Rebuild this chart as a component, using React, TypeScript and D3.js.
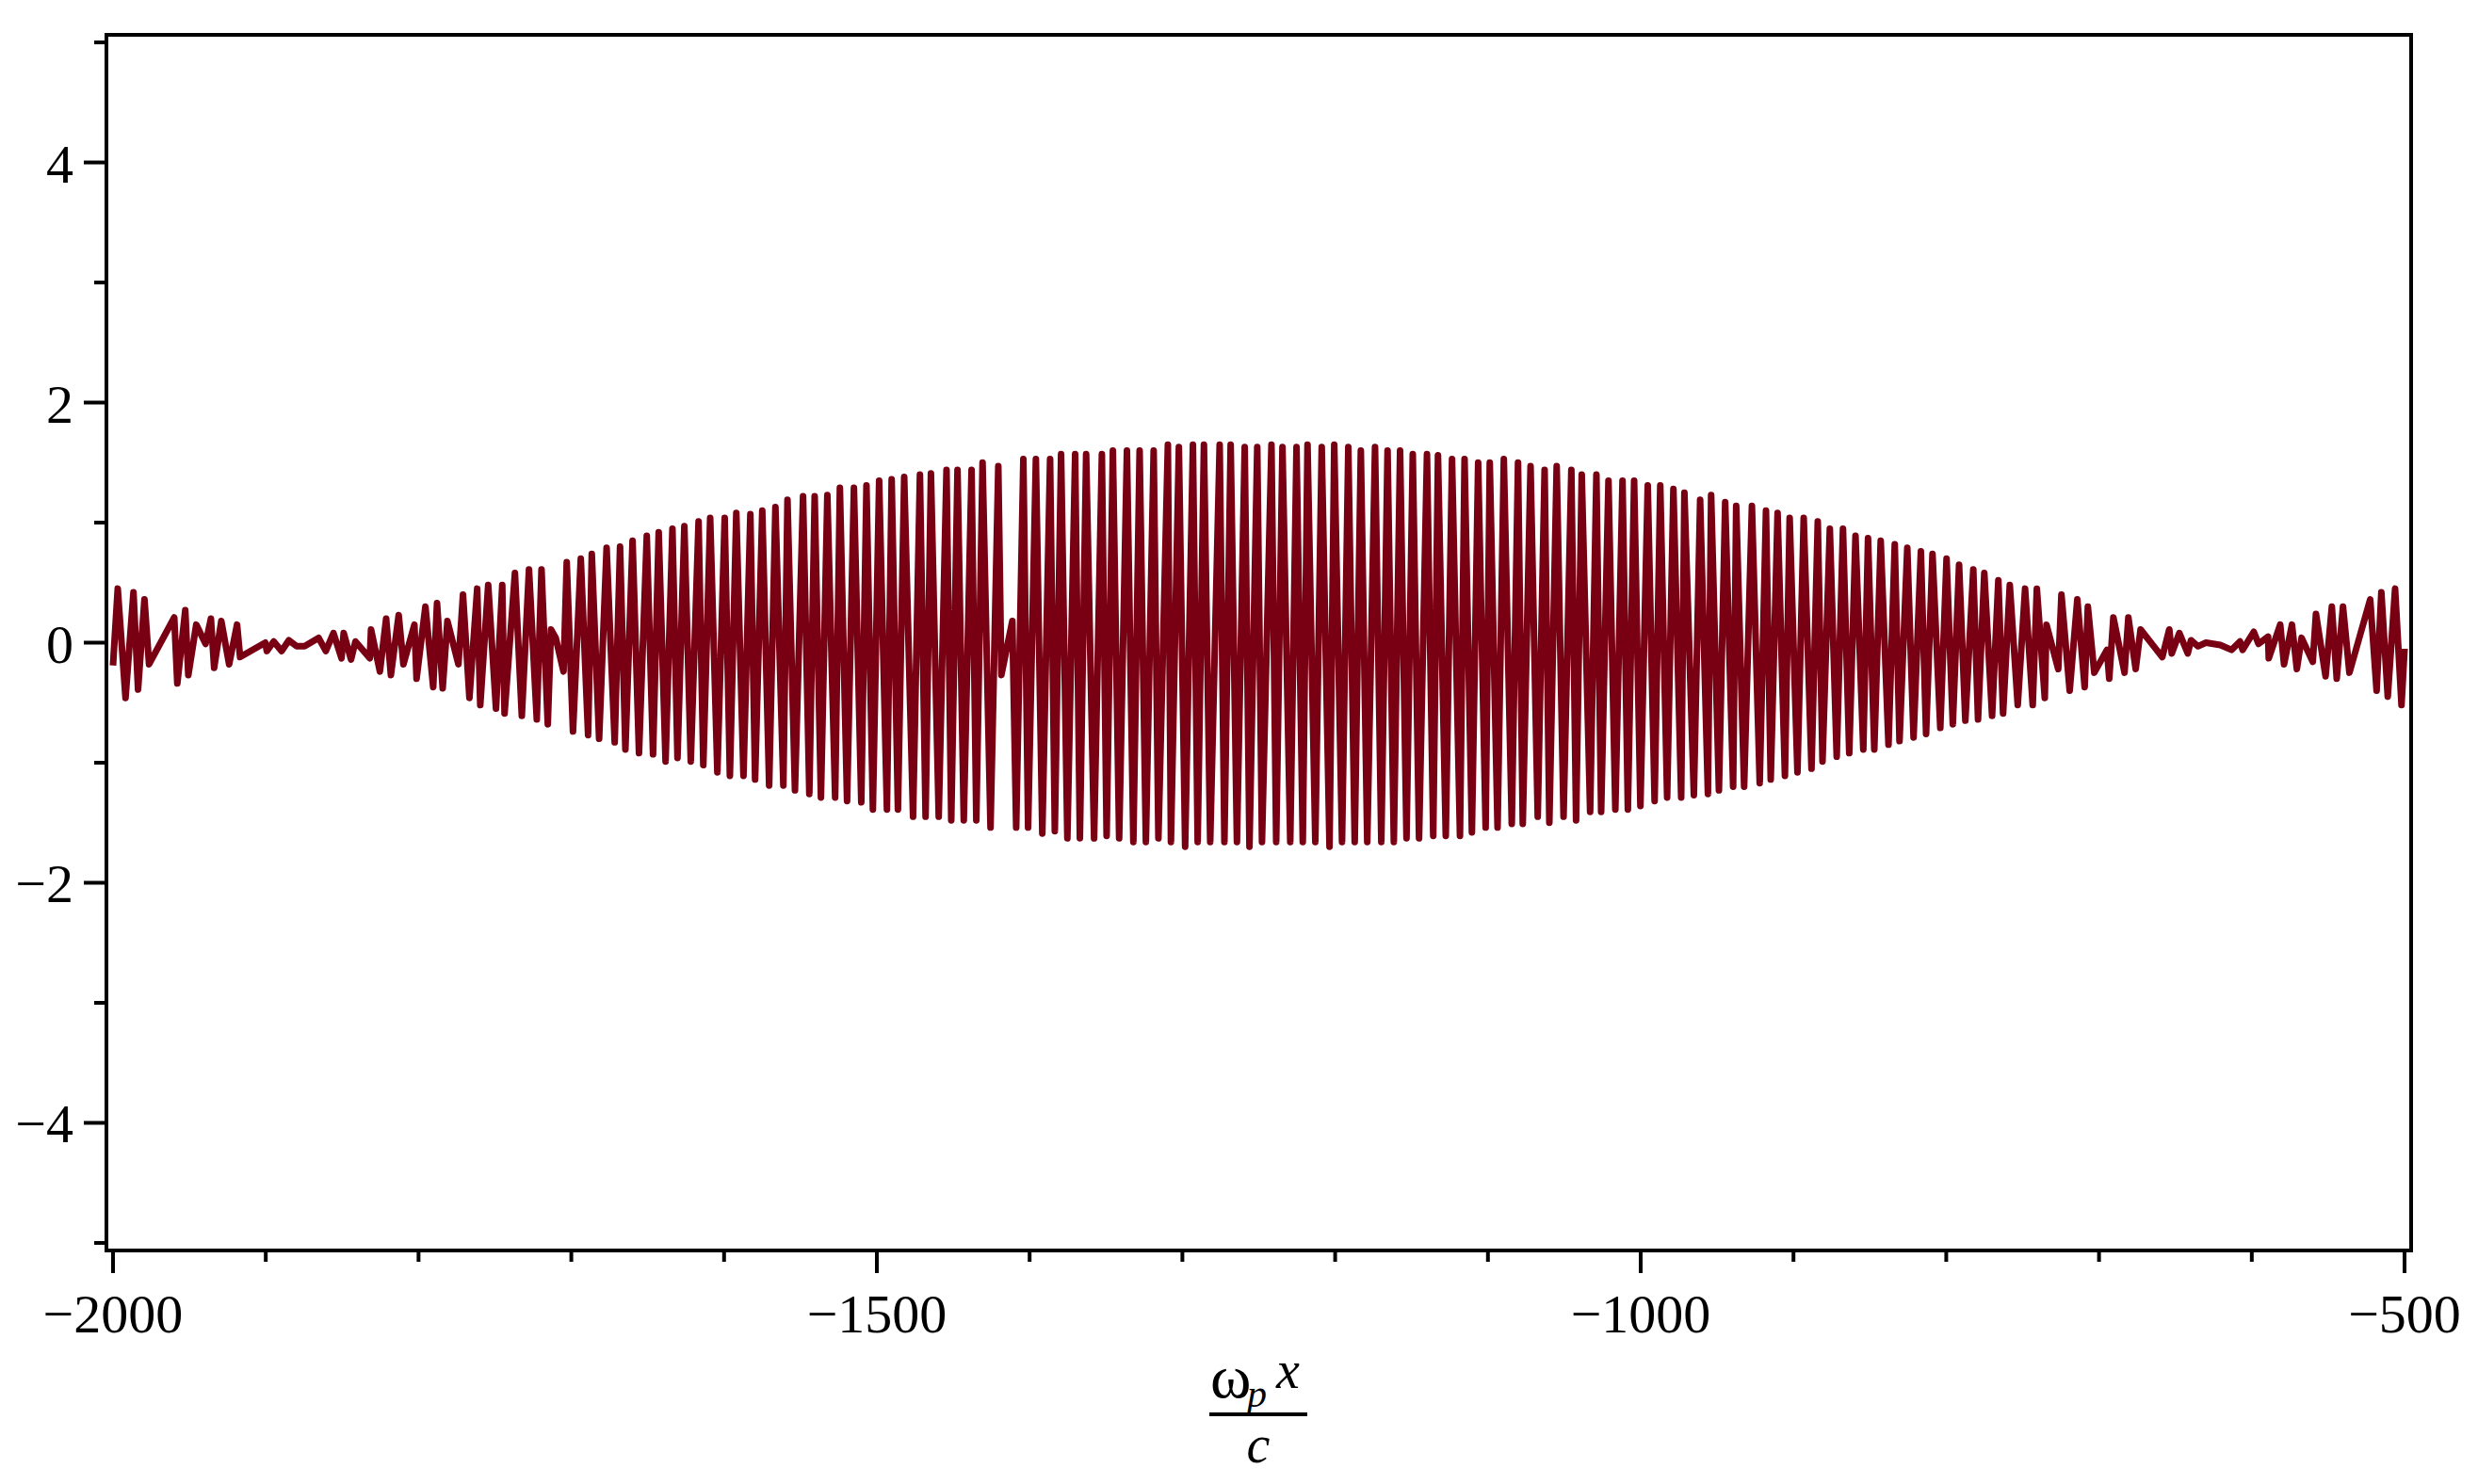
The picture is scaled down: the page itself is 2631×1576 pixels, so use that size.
import React from 'react';
import * as d3 from 'd3';

// Extrema of the plotted curve (x = ω_p x / c, y = value)
const xPts = [
  -2000, -1996.9, -1991.8, -1986.6, -1983.6, -1979.4, -1976.4, -1959.9, -1957.9, -1952.7,
  -1950.7, -1945.5, -1939.4, -1935.9, -1933.8, -1929.1, -1924.0, -1918.8, -1916.8, -1900.3,
  -1899.3, -1894.8, -1889.6, -1884.9, -1879.8, -1874.6, -1865.4, -1860.7, -1855.7, -1850.4,
  -1849.0, -1844.2, -1841.3, -1831.9, -1831.1, -1825.3, -1821.2, -1818.1, -1813.0, -1809.9,
  -1802.7, -1801.3, -1795.5, -1790.4, -1787.9, -1784.2, -1781.1, -1773.9, -1770.9, -1766.7,
  -1761.6, -1759.6, -1754.4, -1749.3, -1745.2, -1743.7, -1736.9, -1732.4, -1727.7, -1722.6,
  -1719.5, -1715.4, -1713.3, -1710.2, -1705.1, -1703.0,
  -1698.9, -1693.8, -1689.0, -1686.6, -1681.8, -1676.9, -1671.6, -1668.1, -1664.6, -1659.9,
  -1655.7, -1650.6, -1646.5, -1642.8, -1638.3, -1633.8, -1630.5, -1626.0, -1621.8, -1616.7,
  -1613.6, -1609.1, -1604.4, -1599.6, -1596.2, -1592.0, -1587.3, -1582.8, -1579.7, -1575.0,
  -1570.5, -1566.4, -1561.2, -1558.5, -1553.6, -1548.3, -1544.2, -1540.7, -1536.6, -1532.4,
  -1527.3, -1524.2, -1519.5, -1515.0, -1510.2, -1506.8, -1502.6, -1498.5, -1493.4, -1490.3,
  -1486.2, -1482.1, -1476.3, -1471.8, -1468.1, -1464.6, -1459.5, -1454.4, -1451.3, -1447.2,
  -1443.1, -1438.0, -1434.9, -1430.8, -1425.6, -1420.5, -1418.5, -1411.3, -1408.8, -1404.1,
  -1401.0, -1395.9, -1391.7, -1386.6, -1383.5, -1379.4, -1375.3, -1370.2, -1367.1, -1363.0,
  -1357.8, -1352.7, -1349.6, -1345.5, -1341.4, -1336.3, -1332.1, -1328.0, -1323.9, -1318.8,
  -1315.7, -1309.5, -1307.5, -1302.3, -1298.2, -1293.1, -1290.0, -1285.9, -1281.8, -1275.6,
  -1272.5, -1268.4, -1264.3, -1259.2, -1256.1, -1251.0, -1247.9, -1241.7, -1238.6, -1234.5,
  -1229.4, -1225.3, -1221.2, -1218.1, -1213.0, -1208.8, -1203.7, -1200.6, -1195.5, -1191.4,
  -1187.2, -1183.2, -1179.0, -1173.9, -1169.8, -1165.7, -1161.6, -1157.5, -1153.3, -1149.2,
  -1145.1, -1139.9, -1135.8, -1132.7, -1127.6, -1123.5, -1118.3, -1115.3, -1110.5, -1106.4,
  -1101.5, -1098.8, -1093.7, -1089.6, -1084.4, -1080.3, -1077.2, -1072.1, -1067.4, -1062.9,
  -1059.8, -1055.0, -1050.5, -1045.4, -1042.3, -1038.6, -1033.1, -1029.0, -1025.9, -1021.1,
  -1016.6, -1011.9, -1008.4, -1004.3, -1000.2, -995.4, -990.9, -987.2, -982.7, -978.6,
  -973.5, -971.4, -965.2, -961.1,
  -956.0, -953.9, -948.8, -944.7, -939.5, -937.5, -932.3, -927.2, -922.1, -918.0,
  -914.9, -910.4, -905.6, -902.5, -897.4, -893.3, -888.2, -884.1, -881.0, -876.2,
  -871.7, -867.6, -863.5, -859.4, -854.3, -851.2, -847.1, -842.9, -837.8, -833.7,
  -830.6, -825.5, -821.4, -816.6, -813.2, -809.0, -803.9, -799.8, -795.7, -791.6,
  -787.5, -782.3, -779.2, -775.1, -770.0, -765.9, -762.8,
  -758.4, -753.2, -748.4, -743.4, -740.7, -735.5, -734.4, -726.7, -724.6, -719.2,
  -714.2, -709.4, -707.3, -703.1, -694.8, -693.3, -690.6, -683.3, -680.8, -676.0,
  -672.8, -658.6, -654.0, -652.4, -647.4, -641.9, -639.8, -635.2, -630.0, -620.6,
  -613.3, -607.7, -606.0, -598.7, -595.6, -589.3, -588.9, -581.4, -578.9, -573.7,
  -570.5, -567.4, -560.1, -558.0, -551.7, -547.6, -544.4, -540.3, -536.1, -522.5,
  -518.3, -515.2, -511.0, -506.2, -502.0, -500.0
];

const yPts = [
  -0.19, 0.45, -0.46, 0.42, -0.39, 0.36, -0.18, 0.21, -0.34, 0.27,
  -0.27, 0.15, -0.01, 0.20, -0.21, 0.18, -0.18, 0.15, -0.12, 0.0,
  -0.07, 0.01, -0.07, 0.02, -0.03, -0.03, 0.04, -0.07, 0.08, -0.13,
  0.08, -0.14, 0.01, -0.13, 0.11, -0.24, 0.20, -0.27, 0.23, -0.18,
  0.15, -0.30, 0.30, -0.37, 0.33, -0.38, 0.18, -0.18, 0.40, -0.46,
  0.45, -0.52, 0.48, -0.55, 0.48, -0.59, 0.58, -0.61, 0.61, -0.64,
  0.61, -0.68, 0.11, 0.04, -0.24, 0.67,
  -0.74, 0.70, -0.77, 0.74, -0.80, 0.79, -0.83, 0.80, -0.89, 0.85,
  -0.92, 0.89, -0.93, 0.92, -0.99, 0.95, -0.96, 0.97, -0.99, 1.01,
  -1.02, 1.04, -1.08, 1.04, -1.11, 1.08, -1.11, 1.07, -1.14, 1.10,
  -1.19, 1.13, -1.19, 1.19, -1.23, 1.22, -1.26, 1.22, -1.29, 1.23,
  -1.29, 1.29, -1.32, 1.29, -1.33, 1.31, -1.39, 1.35, -1.39, 1.36,
  -1.39, 1.38, -1.45, 1.40, -1.45, 1.41, -1.45, 1.44, -1.48, 1.44,
  -1.48, 1.44, -1.48, 1.50, -1.54, 1.47, -0.27, 0.18, -1.54, 1.53,
  -1.54, 1.53, -1.59, 1.53, -1.57, 1.57, -1.63, 1.57, -1.63, 1.57,
  -1.63, 1.57, -1.61, 1.60, -1.63, 1.60, -1.66, 1.60, -1.66, 1.60,
  -1.63, 1.65, -1.66, 1.63, -1.70, 1.65, -1.66, 1.65, -1.66, 1.65,
  -1.66, 1.65, -1.66, 1.63, -1.70, 1.63, -1.66, 1.65, -1.66, 1.63,
  -1.66, 1.63, -1.66, 1.65, -1.66, 1.63, -1.70, 1.65, -1.66, 1.63,
  -1.66, 1.60, -1.66, 1.63, -1.66, 1.60, -1.66, 1.60, -1.63, 1.57,
  -1.63, 1.57, -1.61, 1.56, -1.61, 1.53, -1.61, 1.53, -1.58, 1.50,
  -1.54, 1.50, -1.54, 1.53, -1.51, 1.50, -1.51, 1.47, -1.45, 1.44,
  -1.50, 1.47, -1.45, 1.44, -1.48, 1.40, -1.41, 1.40, -1.41, 1.35,
  -1.39, 1.35, -1.39, 1.35, -1.36, 1.31, -1.32, 1.31, -1.29, 1.28,
  -1.29, 1.25, -1.27, 1.19,
  -1.26, 1.23, -1.23, 1.17, -1.20, 1.14, -1.20, 1.14, -1.17, 1.10,
  -1.14, 1.08, -1.11, 1.04, -1.08, 1.04, -1.05, 1.01, -0.99, 0.95,
  -0.95, 0.95, -0.92, 0.89, -0.89, 0.87, -0.89, 0.85, -0.85, 0.82,
  -0.82, 0.79, -0.79, 0.76, -0.76, 0.74, -0.71, 0.70, -0.68, 0.65,
  -0.65, 0.61, -0.64, 0.58, -0.61, 0.52, -0.59,
  0.48, -0.52, 0.45, -0.52, 0.45, -0.46, 0.15, -0.22, 0.40, -0.40,
  0.36, -0.37, 0.30, -0.25, -0.06, -0.30, 0.21, -0.25, 0.21, -0.22,
  0.11, -0.12, 0.11, -0.09, 0.08, -0.09, 0.02, -0.03, 0.0, -0.02,
  -0.06, 0.01, -0.06, 0.09, -0.01, 0.05, -0.13, 0.15, -0.18, 0.15,
  -0.22, 0.04, -0.16, 0.24, -0.28, 0.30, -0.30, 0.30, -0.25, 0.36,
  -0.40, 0.42, -0.45, 0.45, -0.52, -0.05
];

const xMajorTicks = [-2000, -1500, -1000, -500];
const xMinorTicks = [-1900, -1800, -1700, -1600, -1400, -1300, -1200, -1100, -900, -800, -700, -600];
const yMajorTicks = [-4, -2, 0, 2, 4];
const yMinorTicks = [-5, -3, -1, 1, 3, 5];

const fmt = (v: number) => (v < 0 ? '\u2212' + Math.abs(v) : String(v));

export default function App() {
  const W = 2631;
  const H = 1576;
  const left = 113, right = 2560, top = 37, bottom = 1328;
  const x = d3.scaleLinear().domain([-2004.3, -495.7]).range([left, right]);
  const y = d3.scaleLinear().domain([-5.063, 5.063]).range([bottom, top]);
  const pts: [number, number][] = xPts.map((v, i) => [v, yPts[i]]);
  const line = d3.line<[number, number]>().x(d => x(d[0])).y(d => y(d[1]));
  const serif = '"Liberation Serif", "Times New Roman", serif';
  const stroke = '#000';
  return (
    <svg width={W} height={H} style={{ position: 'fixed', left: 0, top: 0, background: '#fff' }}>
      <rect x={0} y={0} width={W} height={H} fill="#fff" />
      <path d={line(pts) || ''} fill="none" stroke="#780012" strokeWidth={7} strokeLinejoin="round" strokeLinecap="butt" />
      {/* frame */}
      <line x1={left} y1={top} x2={right + 2} y2={top} stroke={stroke} strokeWidth={4} />
      <line x1={right} y1={top} x2={right} y2={bottom} stroke={stroke} strokeWidth={4} />
      <line x1={left} y1={top - 2} x2={left} y2={bottom + 2} stroke={stroke} strokeWidth={4} />
      <line x1={left - 2} y1={bottom} x2={right + 2} y2={bottom} stroke={stroke} strokeWidth={4} />
      {/* x ticks */}
      {xMajorTicks.map(t => (
        <g key={'xm' + t}>
          <line x1={x(t)} x2={x(t)} y1={bottom} y2={bottom + 24} stroke={stroke} strokeWidth={4} />
          <text x={x(t)} y={1415} fontFamily={serif} fontSize={58} textAnchor="middle" fill="#000">{fmt(t)}</text>
        </g>
      ))}
      {xMinorTicks.map(t => (
        <line key={'xn' + t} x1={x(t)} x2={x(t)} y1={bottom} y2={bottom + 12} stroke={stroke} strokeWidth={4} />
      ))}
      {/* y ticks */}
      {yMajorTicks.map(t => (
        <g key={'ym' + t}>
          <line x1={left - 24} x2={left} y1={y(t)} y2={y(t)} stroke={stroke} strokeWidth={4} />
          <text x={78} y={y(t) + 21} fontFamily={serif} fontSize={58} textAnchor="end" fill="#000">{fmt(t)}</text>
        </g>
      ))}
      {yMinorTicks.map(t => (
        <line key={'yn' + t} x1={left - 13} x2={left} y1={y(t)} y2={y(t)} stroke={stroke} strokeWidth={4} />
      ))}
      {/* axis title: ω_p x / c */}
      <text x={1285} y={1484} fontFamily={serif} fontSize={66} fill="#000">ω</text>
      <text x={1324} y={1494} fontFamily={serif} fontSize={42} fontStyle="italic" fill="#000">p</text>
      <text x={1355} y={1474} fontFamily={serif} fontSize={56} fontStyle="italic" fill="#000">x</text>
      <line x1={1284} x2={1388} y1={1502} y2={1502} stroke={stroke} strokeWidth={4} />
      <text x={1336} y={1553} fontFamily={serif} fontSize={56} fontStyle="italic" textAnchor="middle" fill="#000">c</text>
    </svg>
  );
}
